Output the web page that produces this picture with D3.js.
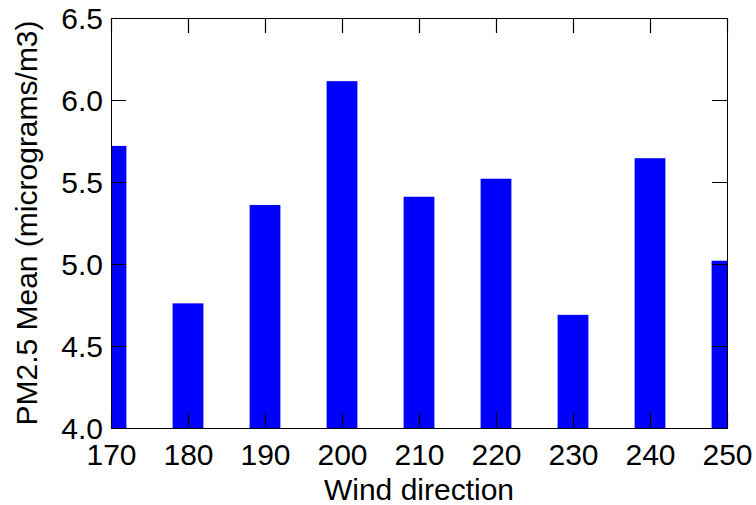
<!DOCTYPE html>
<html>
<head>
<meta charset="utf-8">
<script src="https://cdn.jsdelivr.net/npm/d3@7"></script>
<style>
  body { margin: 0; background: #fff; }
  text { font-family: "Liberation Sans", Arial, sans-serif; fill: #000; }
</style>
</head>
<body>
<script>
// data
var directions = [170, 180, 190, 200, 210, 220, 230, 240, 250];
var pmMeans = [5.72, 4.76, 5.36, 6.115, 5.41, 5.52, 4.69, 5.645, 5.02];
var yTicks = [4.0, 4.5, 5.0, 5.5, 6.0, 6.5];

var margin = { top: 18, right: 29, bottom: 77, left: 111 },
    width = 756 - margin.left - margin.right,
    height = 505 - margin.top - margin.bottom;

var svg = d3.select("body").append("svg")
    .attr("width", 756)
    .attr("height", 505);

var g = svg.append("g")
    .attr("transform", "translate(" + margin.left + "," + margin.top + ")");

var x = d3.scaleLinear().domain([170, 250]).range([0, width]);
var y = d3.scaleLinear().domain([4, 6.5]).range([height, 0]);

g.append("clipPath").attr("id", "clip")
    .append("rect").attr("width", width).attr("height", height);

var barW = x(174) - x(170);

g.append("g").attr("clip-path", "url(#clip)")
    .selectAll("rect")
    .data(directions)
    .enter().append("rect")
    .attr("x", function (d) { return x(d) - barW / 2; })
    .attr("width", barW)
    .attr("y", function (d, i) { return y(pmMeans[i]); })
    .attr("height", function (d, i) { return height - y(pmMeans[i]); })
    .attr("fill", "#0000ff");

var fs = 30;
var tickLen = 15;

// tick labels via d3 axes
var xAxis = g.append("g")
    .attr("transform", "translate(0," + height + ")")
    .call(d3.axisBottom(x).tickValues(directions).tickSize(0).tickPadding(16).tickFormat(d3.format("d")));
xAxis.selectAll("text").style("font-size", fs + "px");

var yAxis = g.append("g")
    .call(d3.axisLeft(y).tickValues(yTicks).tickSize(0).tickPadding(8).tickFormat(d3.format(".1f")));
yAxis.selectAll("text").style("font-size", fs + "px").attr("dy", "0.36em");

g.selectAll(".domain").remove();

// inward tick marks on all four sides
var tickPath = "";
directions.forEach(function (d) {
    var px = Math.round(x(d)) + 0.5;
    tickPath += "M" + px + "," + height + "V" + (height - tickLen);
    tickPath += "M" + px + ",0V" + tickLen;
});
yTicks.forEach(function (d) {
    var py = Math.round(y(d)) + 0.5;
    tickPath += "M0," + py + "H" + tickLen;
    tickPath += "M" + width + "," + py + "H" + (width - tickLen);
});
g.append("path")
    .attr("d", tickPath)
    .attr("fill", "none")
    .attr("stroke", "#000")
    .attr("stroke-width", 1.2);

// box
g.append("rect")
    .attr("x", 0.5).attr("y", 0.5)
    .attr("width", width).attr("height", height)
    .attr("fill", "none").attr("stroke", "#000");

svg.append("text")
    .attr("x", margin.left + width / 2)
    .attr("y", 500)
    .attr("text-anchor", "middle")
    .style("font-size", fs + "px")
    .text("Wind direction");

svg.append("text")
    .attr("transform", "translate(37," + (margin.top + height / 2) + ") rotate(-90)")
    .attr("text-anchor", "middle")
    .style("font-size", fs + "px")
    .text("PM2.5 Mean (micrograms/m3)");
</script>
</body>
</html>
